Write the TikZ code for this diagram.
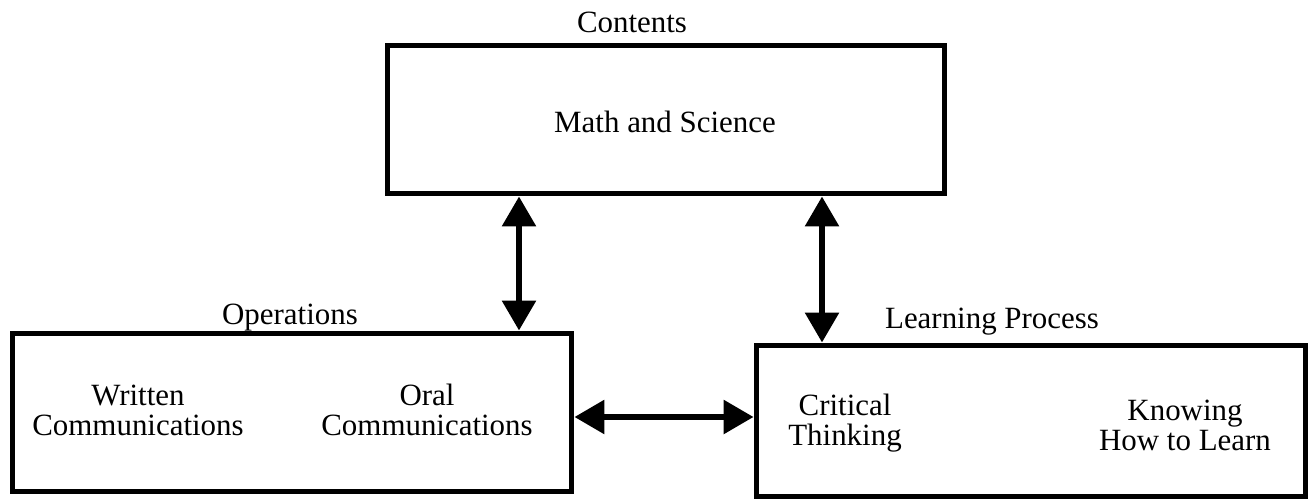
\documentclass[tikz,border=0pt]{standalone}
\usepackage{fontspec}
\setmainfont{Liberation Serif}
\usetikzlibrary{arrows.meta,positioning}
\newcommand{\figfont}{\fontsize{17.6}{17}\selectfont}
\tikzset{
  area/.style={draw,line width=1mm,inner sep=0pt},
  txt/.style={align=center,font=\figfont,inner sep=0pt},
  ttl/.style={font=\figfont,inner sep=0pt},
  dbl/.style={{Triangle[length=6mm,width=6.6mm]}-{Triangle[length=6mm,width=6.6mm]},
              line width=1.2mm},
}

\begin{document}
\begin{tikzpicture}[x=0.02cm,y=-0.02cm]
\useasboundingbox (0,0) rectangle (1314,503);

% ------------------------------------------------ boxes
\node[area,minimum width=11.16cm,minimum height=2.98cm] (cont) at (666,119.5) {};
\node[area,minimum width=11.2cm,minimum height=3.18cm] (oper) at (292,412.5) {};
\node[area,minimum width=11.0cm,minimum height=3.04cm] (lproc) at (1031,421) {};

% ------------------------------------------------ titles
\node[ttl] (contT) at (632,22) {Contents};
\node[ttl] (operT) at (290,318) {Operations};
\node[ttl] (lprocT) at (992,322) {Learning Process};

% ------------------------------------------------ contents of the boxes
\node[txt] (math) at (665,122) {Math and Science};
\node[txt] (writ) at (138,410) {Written\\Communications};
\node[txt] (oral) at (427,410) {Oral\\Communications};
\node[txt] (crit) at (845,423) {Critical\\Thinking};
\node[txt] (know) at (1185,425) {Knowing\\How to Learn};

% ------------------------------------------------ connectors
\draw[dbl] (cont.south -| 519,0) -- (oper.north -| 519,0);
\draw[dbl] (cont.south -| 822,0) -- (lproc.north -| 822,0);
\draw[dbl] (oper.east |- 0,417) -- (lproc.west |- 0,417);

\end{tikzpicture}
\end{document}
